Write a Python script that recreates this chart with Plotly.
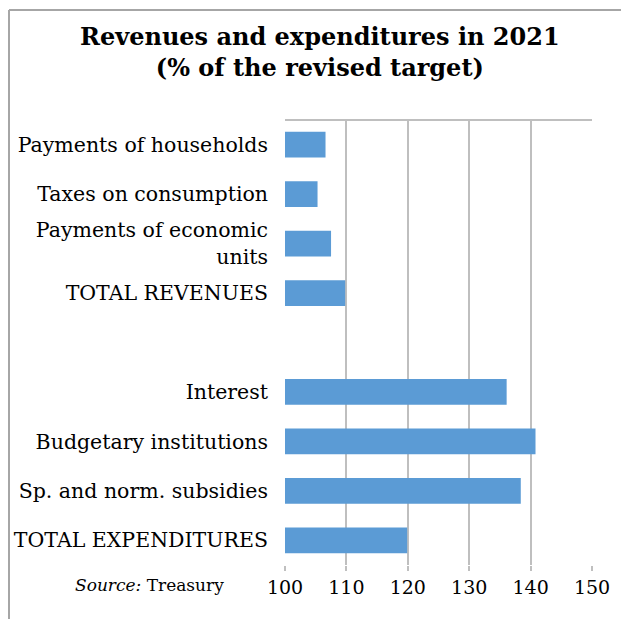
import plotly.graph_objects as go

# Execution of revenues and expenditures, % of the revised target
categories = [
    "Payments of households",
    "Taxes on consumption",
    "Payments of economic<br>units",
    "TOTAL REVENUES",
    " ",
    "Interest",
    "Budgetary institutions",
    "Sp. and norm. subsidies",
    "TOTAL EXPENDITURES",
]
values = [106.6, 105.3, 107.5, 109.8, None, 136.1, 140.8, 138.4, 119.9]
x_ticks = [100, 110, 120, 130, 140, 150]
BASELINE = 100

BAR_COLOR = "#5B9BD5"
GRID_COLOR = "#BFBFBF"
SERIF = "DejaVu Serif, Liberation Serif, serif"

# bars start from the 100% line, so their length is value - 100
fig = go.Figure(
    go.Bar(
        y=categories,
        x=[None if v is None else v - BASELINE for v in values],
        base=BASELINE,
        orientation="h",
        marker=dict(color=BAR_COLOR, line=dict(width=0)),
        hovertext=[None if v is None else f"{v}" for v in values],
    )
)

fig.update_layout(
    width=621,
    height=619,
    margin=dict(l=285, r=29, t=120, b=54),
    paper_bgcolor="white",
    plot_bgcolor="white",
    bargap=0.48,
    showlegend=False,
    font=dict(family=SERIF, color="black"),
)

# chart title, centred over the chart frame
fig.add_annotation(
    text="<b>Revenues and expenditures in 2021<br>(% of the revised target)</b>",
    xref="paper", yref="paper",
    x=(320 - 285) / 307, y=1 + (120 - 52) / 445,
    xanchor="center", yanchor="middle",
    showarrow=False,
    font=dict(family=SERIF, size=24, color="black"),
)

fig.update_xaxes(
    range=[100, 150],
    tickvals=x_ticks,
    ticktext=[str(t) for t in x_ticks],
    showgrid=True,
    gridcolor=GRID_COLOR,
    gridwidth=2,
    zeroline=False,
    showline=False,
    ticks="outside",
    ticklen=5,
    tickwidth=2,
    tickcolor=GRID_COLOR,
    tickfont=dict(family=SERIF, size=19, color="black"),
    fixedrange=True,
)
fig.update_yaxes(
    categoryorder="array",
    categoryarray=categories,
    autorange="reversed",
    showgrid=False,
    showline=False,
    zeroline=False,
    ticks="",
    ticklabelstandoff=16,
    tickfont=dict(family=SERIF, size=20.5, color="black"),
    fixedrange=True,
)

# plot-area top edge and outer chart frame
fig.add_shape(type="line", xref="paper", yref="paper", x0=0, x1=1, y0=1, y1=1,
              line=dict(color=GRID_COLOR, width=2))
fig.add_shape(type="line", xref="paper", yref="paper", x0=-276 / 307, x1=1.2,
              y0=1 + 110 / 445, y1=1 + 110 / 445, line=dict(color="#A6A6A6", width=2))
fig.add_shape(type="line", xref="paper", yref="paper", x0=-276 / 307, x1=-276 / 307,
              y0=1 + 110 / 445, y1=-0.2, line=dict(color="#A6A6A6", width=2))

fig.add_annotation(
    text="<i>Source:</i> Treasury",
    xref="paper", yref="paper",
    x=-136 / 307, y=-20 / 445,
    xanchor="center", yanchor="middle",
    showarrow=False,
    font=dict(family=SERIF, size=17, color="black"),
)

fig.write_html("out.html")
